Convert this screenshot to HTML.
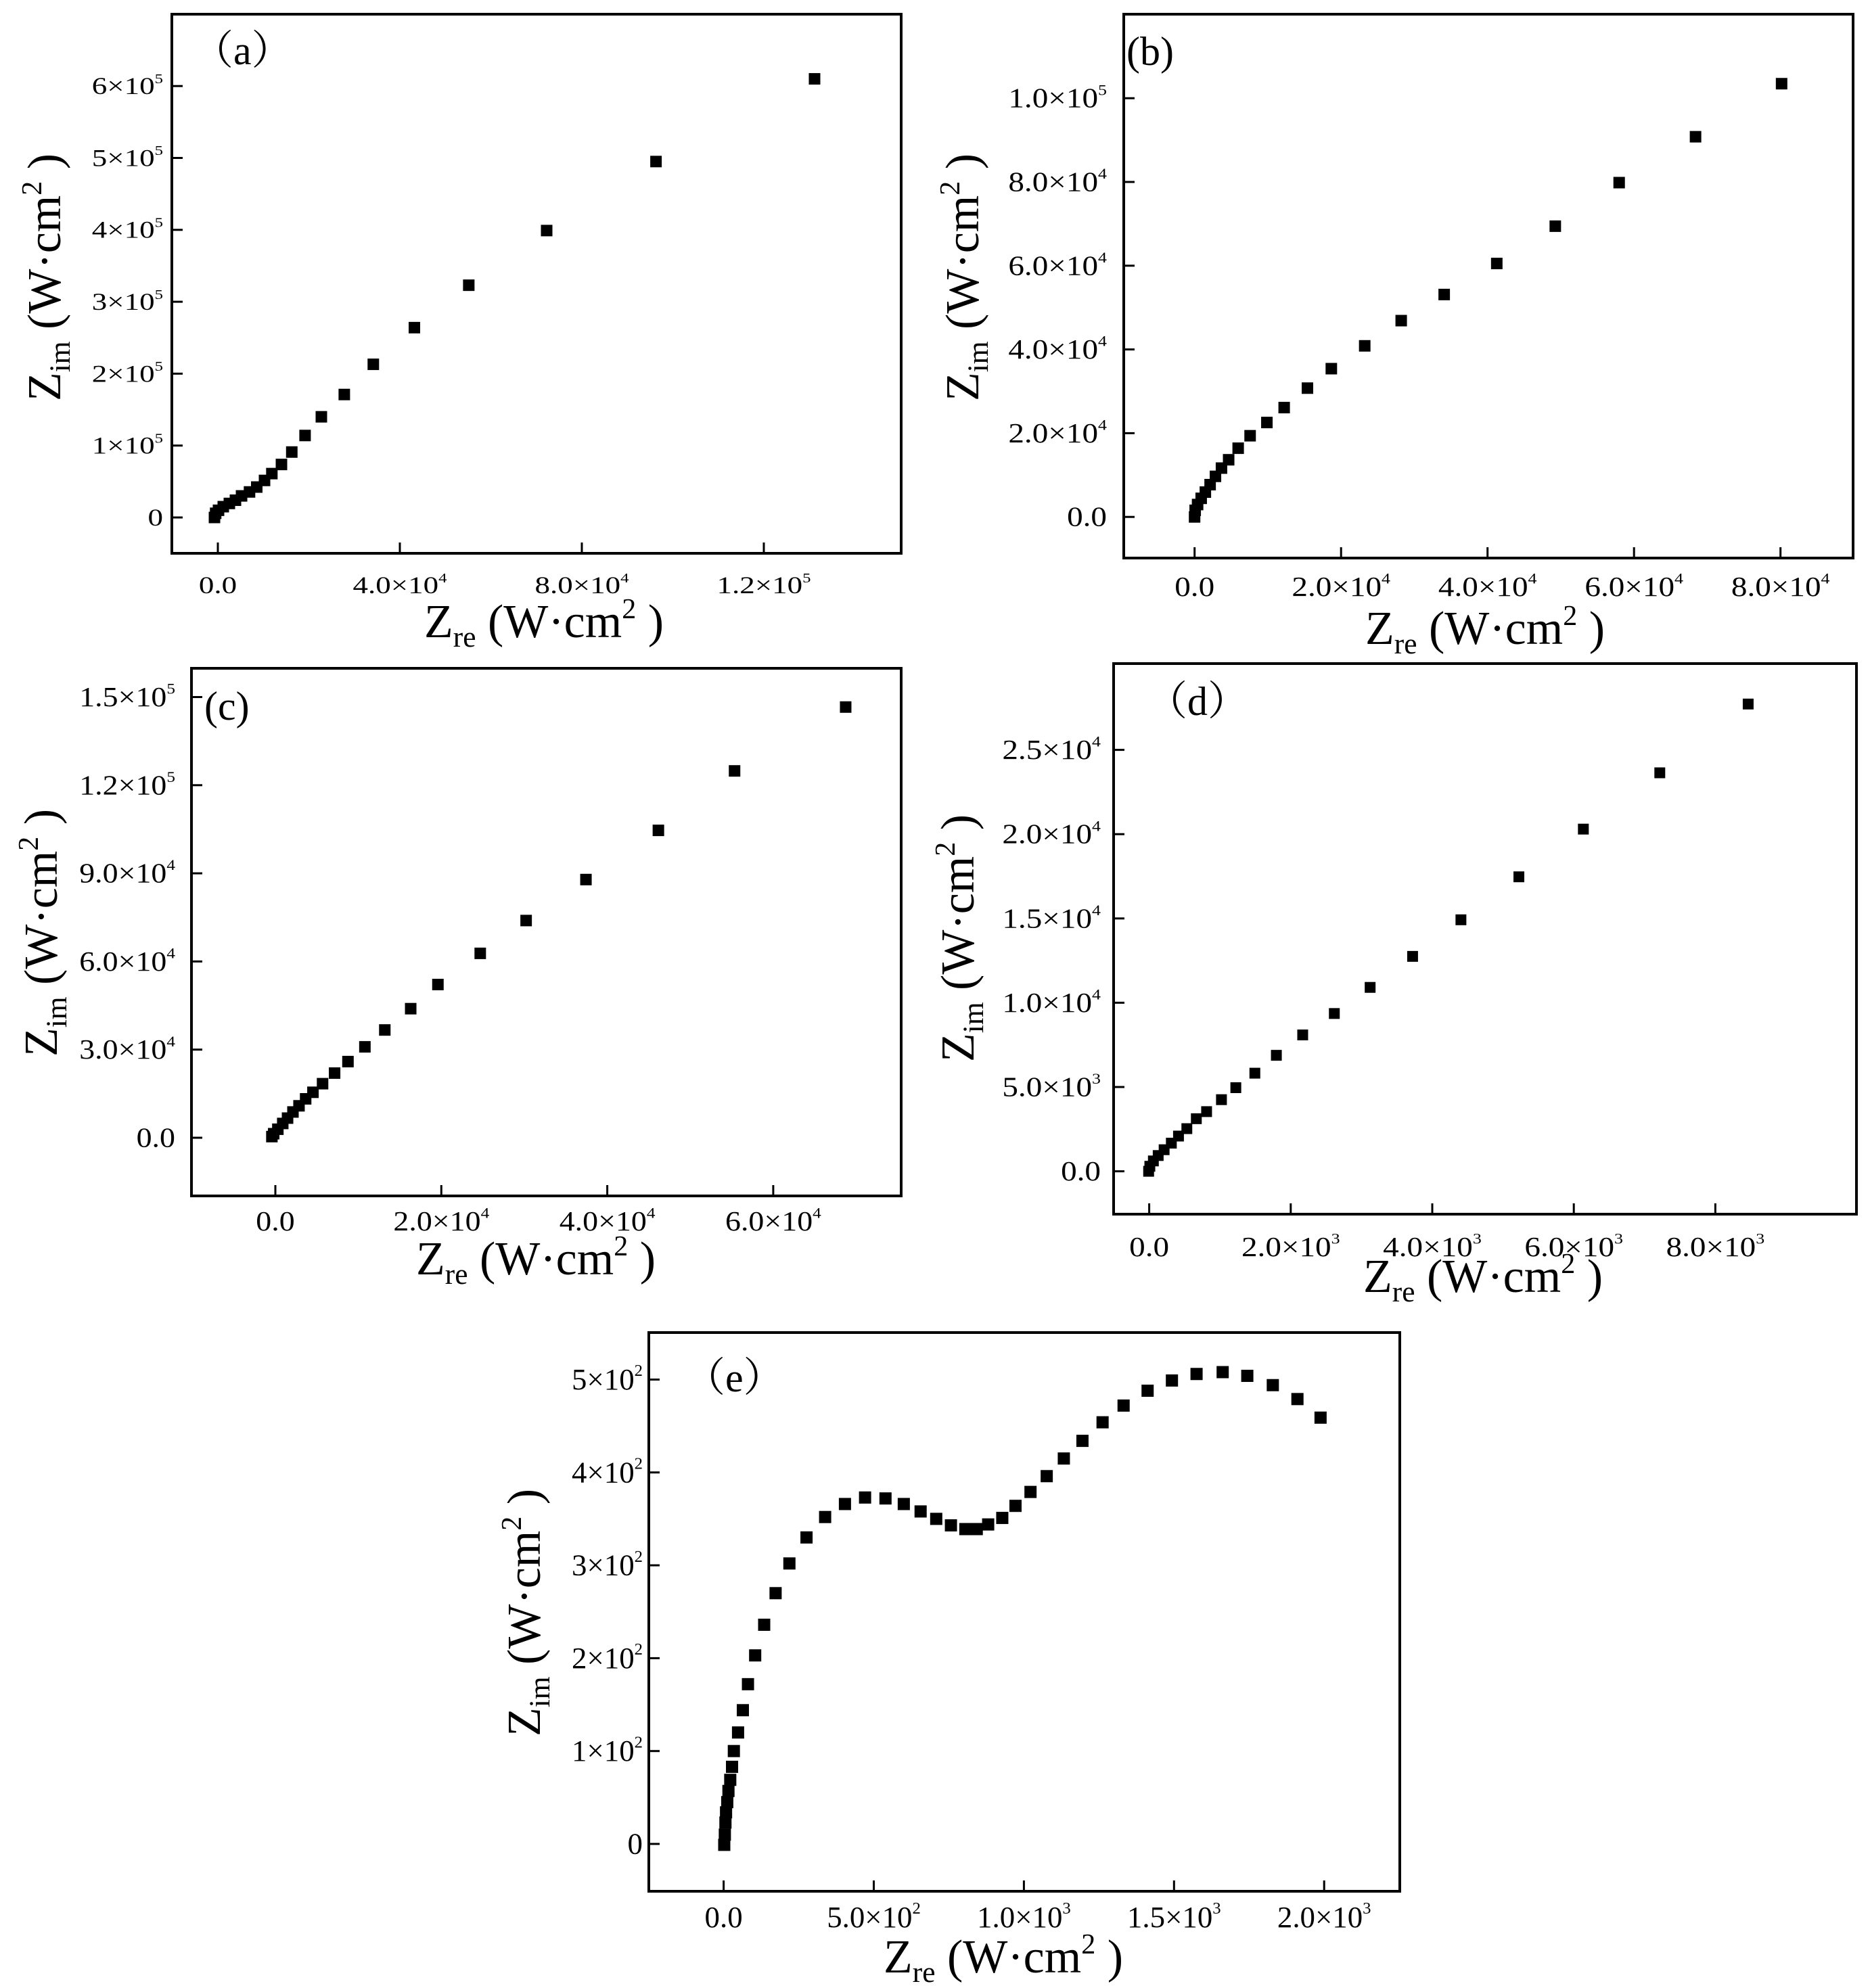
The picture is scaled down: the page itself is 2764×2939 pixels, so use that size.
<!DOCTYPE html>
<html><head><meta charset="utf-8">
<style>
html,body{margin:0;padding:0;background:#fff;}
svg{display:block;}
text{font-family:"Liberation Serif","Noto Serif CJK SC",serif;fill:#000;}
</style></head>
<body>
<svg id="fig" width="2764" height="2939" viewBox="0 0 2764 2939" xmlns="http://www.w3.org/2000/svg"></svg>
<script>
// ---- data (Z_re, Z_im) per panel ----
const aX=[131150,96300,72270,55150,43200,34170,27790,22750,19170,16250,13980,11870,10260,8550,6960,5210,3870,2530,1190,150,-480,-740];
const aY=[610000,495000,399000,323000,264000,213000,171000,140000,114000,91000,73700,61000,51500,42300,35500,30000,24000,19500,15000,10000,5800,0];
const bX=[80150,68400,57970,49250,41260,34080,28210,23230,18670,15410,12230,9870,7580,5950,4650,3670,2850,2120,1470,900,410,80,0];
const bY=[103470,90800,79840,69440,60530,53120,46880,40860,35410,30760,26110,22550,19390,16410,13650,11660,9690,7710,5930,4440,2960,1580,0];
const cX=[68730,55340,46160,37430,30220,24690,19590,16310,13190,10790,8750,7140,5690,4530,3650,2850,2120,1470,890,300,-200,-420];
const cY=[146600,124860,104620,87880,73930,62760,52150,43930,36680,30940,25920,22010,18400,15470,13240,10870,8770,6680,4860,2900,1380,390];
const dX=[8464,7215,6135,5224,4405,3722,3122,2616,2169,1797,1493,1224,1021,811,666,532,414,313,211,127,59,9,-8];
const dY=[27720,23640,20300,17470,14920,12750,10910,9360,8090,6880,5820,4960,4250,3540,3120,2530,2090,1670,1280,935,614,297,0];
const eX=[1988,1911,1829,1744,1662,1575,1493,1412,1332,1262,1195,1133,1076,1022,972,928,881,843,805,757,708,656,600,539,471,404,338,276,219,173,135,105,81,64,48,34,28,22,16,12,8,6,4,2];
const eY=[459,479,494,504,508,506,499,488,472,454,434,415,396,379,364,351,344,339,339,343,350,358,366,372,373,366,352,330,302,270,236,203,172,144,120,100,83,69,57,45,34,23,10,-1];
// ---- tick values and labels ----
const aXTicks=[0,40000,80000,120000];
const aXLabels=["0.0","4.0×10^4","8.0×10^4","1.2×10^5"];
const aYTicks=[0,100000,200000,300000,400000,500000,600000];
const aYLabels=["0","1×10^5","2×10^5","3×10^5","4×10^5","5×10^5","6×10^5"];
const bXTicks=[0,20000,40000,60000,80000];
const bXLabels=["0.0","2.0×10^4","4.0×10^4","6.0×10^4","8.0×10^4"];
const bYTicks=[0,20000,40000,60000,80000,100000];
const bYLabels=["0.0","2.0×10^4","4.0×10^4","6.0×10^4","8.0×10^4","1.0×10^5"];
const cXTicks=[0,20000,40000,60000];
const cXLabels=["0.0","2.0×10^4","4.0×10^4","6.0×10^4"];
const cYTicks=[0,30000,60000,90000,120000,150000];
const cYLabels=["0.0","3.0×10^4","6.0×10^4","9.0×10^4","1.2×10^5","1.5×10^5"];
const dXTicks=[0,2000,4000,6000,8000];
const dXLabels=["0.0","2.0×10^3","4.0×10^3","6.0×10^3","8.0×10^3"];
const dYTicks=[0,5000,10000,15000,20000,25000];
const dYLabels=["0.0","5.0×10^3","1.0×10^4","1.5×10^4","2.0×10^4","2.5×10^4"];
const eXTicks=[0,500,1000,1500,2000];
const eXLabels=["0.0","5.0×10^2","1.0×10^3","1.5×10^3","2.0×10^3"];
const eYTicks=[0,100,200,300,400,500];
const eYLabels=["0","1×10^2","2×10^2","3×10^2","4×10^2","5×10^2"];

const NS="http://www.w3.org/2000/svg";
const svg=document.getElementById('fig');
function mk(tag,attrs,parent){const e=document.createElementNS(NS,tag);for(const k in attrs)e.setAttribute(k,attrs[k]);(parent||svg).appendChild(e);return e;}

function tickText(parent,str,x,y,anchor,fs,sx){
  const t=mk('text',{transform:`translate(${x},${y}) scale(${sx},1)`,'text-anchor':anchor,'font-size':fs},parent);
  const parts=str.split('^');
  const s1=document.createElementNS(NS,'tspan');s1.textContent=parts[0];t.appendChild(s1);
  if(parts[1]){const s2=document.createElementNS(NS,'tspan');s2.setAttribute('font-size',fs*0.55);s2.setAttribute('dy',-fs*0.45);s2.textContent=parts[1];t.appendChild(s2);}
  return t;
}
function title(parent,sub,x,y,rot,fs){
  const t=mk('text',{transform:`translate(${x},${y}) rotate(${rot})`,'text-anchor':'middle','font-size':fs},parent);
  const add=(txt,opt)=>{const s=document.createElementNS(NS,'tspan');for(const k in opt)s.setAttribute(k,opt[k]);s.textContent=txt;t.appendChild(s);};
  add('Z',{});add(sub,{'font-size':fs*0.62,dy:fs*0.2});add(' (W·cm',{dy:-fs*0.2});add('2',{'font-size':fs*0.6,dy:-fs*0.4});add(' )',{dy:fs*0.4});
  return t;
}

const panels=[
 {id:'a',X:aX,Y:aY,xt:aXTicks,xl:aXLabels,yt:aYTicks,yl:aYLabels,f:[254,21,1332,818],x0:322,xpx:269,xv:40000,y0:765,ypx:106.3,yv:100000,
  fs:36,sx:1.25,ylR:241,xlB:877,m:17,label:'（a）',lx:285,ly:95,xtX:804,xtY:942,ytX:67,ytY:410},
 {id:'b',X:bX,Y:bY,xt:bXTicks,xl:bXLabels,yt:bYTicks,yl:bYLabels,f:[1661,21,2739,825],x0:1765.7,xpx:216.5,xv:20000,y0:764.2,ypx:123.8,yv:20000,
  fs:41,sx:1.15,ylR:1636,xlB:881,m:17,label:'(b)',lx:1665,ly:96,xtX:2195,xtY:952,ytX:1424,ytY:410},
 {id:'c',X:cX,Y:cY,xt:cXTicks,xl:cXLabels,yt:cYTicks,yl:cYLabels,f:[283,988,1332,1768],x0:407,xpx:245.3,xv:20000,y0:1682,ypx:130.3,yv:30000,
  fs:41,sx:1.12,ylR:259,xlB:1819,m:17,label:'(c)',lx:302,ly:1064,xtX:792,xtY:1884,ytX:62,ytY:1379},
 {id:'d',X:dX,Y:dY,xt:dXTicks,xl:dXLabels,yt:dYTicks,yl:dYLabels,f:[1646,981,2744,1795],x0:1698.6,xpx:209.2,xv:2000,y0:1731.6,ypx:124.6,yv:5000,
  fs:41,sx:1.15,ylR:1627,xlB:1857,m:16,label:'（d）',lx:1695,ly:1057,xtX:2192,xtY:1910,ytX:1417,ytY:1387},
 {id:'e',X:eX,Y:eY,xt:eXTicks,xl:eXLabels,yt:eYTicks,yl:eYLabels,f:[959,1970,2069,2796],x0:1069.6,xpx:221.9,xv:500,y0:2726,ypx:137.3,yv:100,
  fs:44,sx:1.02,ylR:950,xlB:2849,m:18,label:'（e）',lx:1012,ly:2057,xtX:1483,xtY:2916,ytX:776,ytY:2384}
];

panels.forEach(p=>{
  const g=mk('g',{});
  
  
  const sx=v=>p.x0+v/p.xv*p.xpx, sy=v=>p.y0-v/p.yv*p.ypx;
  const [l,t,r,b]=p.f;
  const fr=mk('rect',{x:l,y:t,width:r-l,height:b-t,fill:'none',stroke:'#000','stroke-width':4},g);
  
  
  p.xt.forEach((v,i)=>{
    const x=sx(v);
    const tk=mk('line',{x1:x,x2:x,y1:b,y2:b-16,stroke:'#000','stroke-width':3},g);
    
    
    const lb=tickText(g,p.xl[i],x,p.xlB,'middle',p.fs,p.sx);
    
    
  });
  p.yt.forEach((v,i)=>{
    const y=sy(v);
    const tk=mk('line',{x1:l,x2:l+16,y1:y,y2:y,stroke:'#000','stroke-width':3},g);
    
    
    const lb=tickText(g,p.yl[i],p.ylR,y+p.fs*0.33,'end',p.fs,p.sx);
    
    
  });
  p.X.forEach((xv,i)=>{
    const pt=mk('rect',{x:sx(xv)-p.m/2,y:sy(p.Y[i])-p.m/2,width:p.m,height:p.m,fill:'#000'},g);
    
    
  });
  const lab=mk('text',{x:p.lx,y:p.ly,'font-size':60},g);
  lab.textContent=p.label;
  
  
  const xt=title(g,'re',p.xtX,p.xtY,0,70);
  
  
  const yt=title(g,'im',p.ytX+22,p.ytY,-90,70);
  
  
});
</script>
</body></html>
